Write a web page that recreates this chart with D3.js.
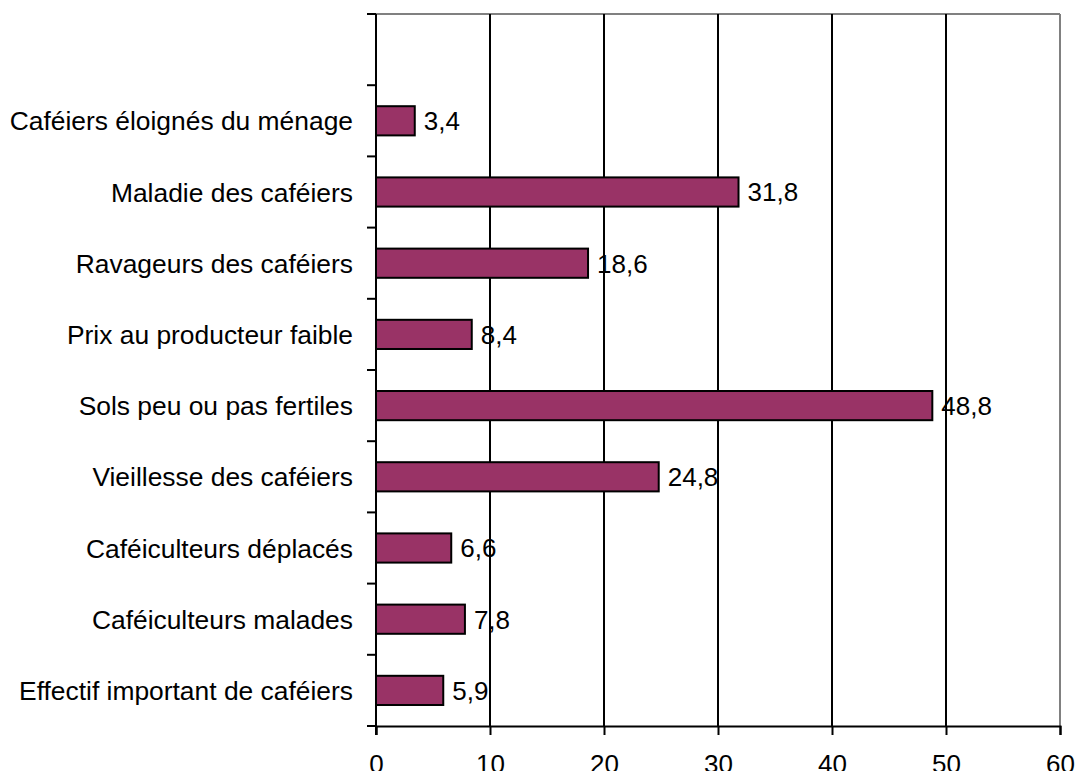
<!DOCTYPE html>
<html>
<head>
<meta charset="utf-8">
<script src="https://cdn.jsdelivr.net/npm/d3@7"></script>
<style>
  html, body { margin: 0; padding: 0; background: #fff; }
  svg { display: block; }
  text { font-family: "Liberation Sans", Arial, sans-serif; fill: #000; }
</style>
</head>
<body>
<svg id="chart" width="1076" height="771"></svg>
<script>
// Categories from top to bottom (the first slot of the axis is left empty)
const categories = [
  "Caféiers éloignés du ménage",
  "Maladie des caféiers",
  "Ravageurs des caféiers",
  "Prix au producteur faible",
  "Sols peu ou pas fertiles",
  "Vieillesse des caféiers",
  "Caféiculteurs déplacés",
  "Caféiculteurs malades",
  "Effectif important de caféiers"
];
const values = [3.4, 31.8, 18.6, 8.4, 48.8, 24.8, 6.6, 7.8, 5.9];
const valueLabels = ["3,4", "31,8", "18,6", "8,4", "48,8", "24,8", "6,6", "7,8", "5,9"];
const xTicks = [0, 10, 20, 30, 40, 50, 60];

const svg = d3.select("#chart");
const plot = { left: 376, right: 1060, top: 14, bottom: 726 };
const fontSize = 26;
const catFontSize = 26.4;

const x = d3.scaleLinear().domain([0, 60]).range([plot.left, plot.right]);
const slots = [""].concat(categories);
const y = d3.scaleBand().domain(slots).range([plot.top, plot.bottom]).paddingInner(0).paddingOuter(0);
const barH = y.bandwidth() * 0.41;

// Plot frame: grey top and right edges
svg.append("line").attr("x1", plot.left).attr("x2", plot.right).attr("y1", plot.top).attr("y2", plot.top)
  .attr("stroke", "#808080").attr("stroke-width", 2);
svg.append("line").attr("x1", plot.right).attr("x2", plot.right).attr("y1", plot.top).attr("y2", plot.bottom)
  .attr("stroke", "#808080").attr("stroke-width", 2);

// Vertical gridlines
svg.append("g").selectAll("line")
  .data(xTicks.filter(d => d > 0 && d < 60))
  .join("line")
  .attr("x1", d => x(d)).attr("x2", d => x(d))
  .attr("y1", plot.top).attr("y2", plot.bottom)
  .attr("stroke", "#000").attr("stroke-width", 2);

// Bars
svg.append("g").selectAll("rect")
  .data(categories)
  .join("rect")
  .attr("x", x(0))
  .attr("y", d => y(d) + (y.bandwidth() - barH) / 2)
  .attr("width", (d, i) => x(values[i]) - x(0))
  .attr("height", barH)
  .attr("fill", "#993366")
  .attr("stroke", "#000")
  .attr("stroke-width", 2);

// Value labels
svg.append("g").selectAll("text")
  .data(categories)
  .join("text")
  .attr("x", (d, i) => x(values[i]) + 9)
  .attr("y", d => y(d) + y.bandwidth() / 2)
  .attr("dy", "0.36em")
  .attr("font-size", fontSize)
  .text((d, i) => valueLabels[i]);

// Bottom axis
const xAxis = d3.axisBottom(x).tickValues(xTicks).tickSize(9).tickFormat(d3.format("d"));
const gx = svg.append("g").attr("transform", `translate(0,${plot.bottom})`).call(xAxis);
gx.select(".domain").attr("stroke", "#000").attr("stroke-width", 2);
gx.selectAll(".tick line").attr("stroke", "#000").attr("stroke-width", 2);
gx.selectAll(".tick text")
  .attr("y", 47).attr("dy", null)
  .attr("font-size", fontSize)
  .attr("font-family", "Liberation Sans, Arial, sans-serif")
  .attr("fill", "#000");

// Left axis: ticks at slot boundaries, labels centred in each slot
svg.append("line").attr("x1", plot.left).attr("x2", plot.left).attr("y1", plot.top).attr("y2", plot.bottom + 9)
  .attr("stroke", "#000").attr("stroke-width", 2);
const boundaries = slots.map(s => y(s)).concat([plot.bottom]);
svg.append("g").selectAll("line")
  .data(boundaries)
  .join("line")
  .attr("x1", plot.left - 9).attr("x2", plot.left)
  .attr("y1", d => d).attr("y2", d => d)
  .attr("stroke", "#000").attr("stroke-width", 2);

svg.append("g").selectAll("text")
  .data(categories)
  .join("text")
  .attr("x", plot.left - 23)
  .attr("y", d => y(d) + y.bandwidth() / 2)
  .attr("dy", "0.36em")
  .attr("text-anchor", "end")
  .attr("font-size", catFontSize)
  .text(d => d);
</script>
</body>
</html>
